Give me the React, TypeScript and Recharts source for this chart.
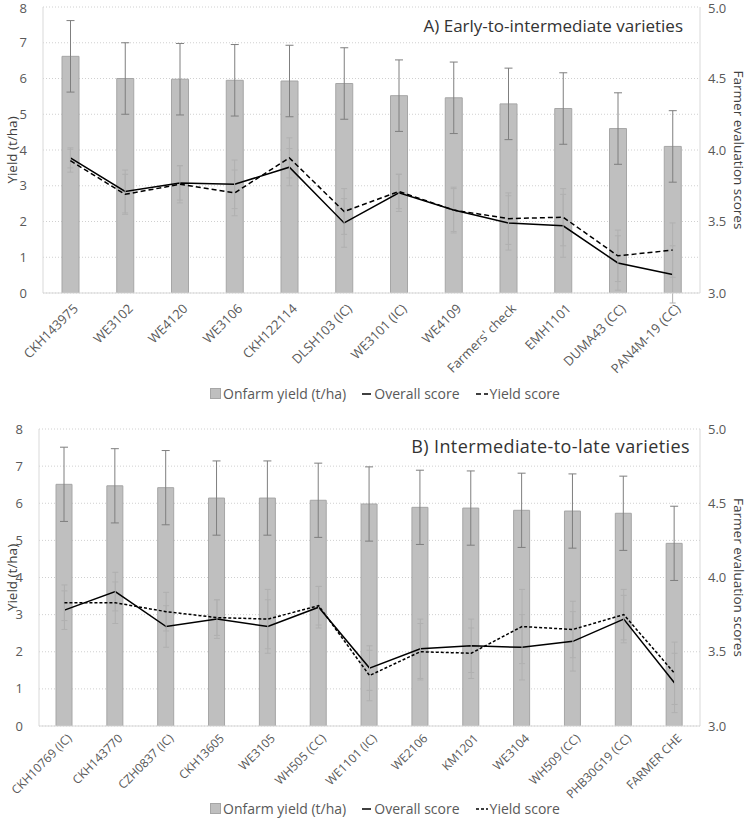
import React from 'react';
import { ComposedChart, Bar, Line, XAxis, YAxis, CartesianGrid, ErrorBar } from 'recharts';

// A) early-to-intermediate
const catA = ['CKH143975', 'WE3102', 'WE4120', 'WE3106', 'CKH122114', 'DLSH103 (IC)', 'WE3101 (IC)', 'WE4109', "Farmers' check", 'EMH1101', 'DUMA43 (CC)', 'PAN4M-19 (CC)'];
const yieldA = [6.62, 6.0, 5.98, 5.95, 5.93, 5.86, 5.52, 5.46, 5.29, 5.16, 4.6, 4.1];
const yieldErrA = [1.0, 1.0, 1.0, 1.0, 1.0, 1.0, 1.0, 1.0, 1.0, 1.0, 1.0, 1.0];
const overallA = [3.945, 3.71, 3.77, 3.76, 3.88, 3.49, 3.70, 3.58, 3.49, 3.47, 3.21, 3.13];
const overallErrA = [0.07, 0.15, 0.12, 0.17, 0.13, 0.17, 0.13, 0.16, 0.19, 0.22, 0.19, 0.2];
const yScoreA = [3.925, 3.69, 3.76, 3.70, 3.945, 3.57, 3.71, 3.58, 3.52, 3.53, 3.26, 3.30];
const yScoreErrA = [0.08, 0.14, 0.13, 0.16, 0.14, 0.16, 0.12, 0.15, 0.18, 0.2, 0.18, 0.19];

// B) intermediate-to-late
const catB = ['CKH10769 (IC)', 'CKH143770', 'CZH0837 (IC)', 'CKH13605', 'WE3105', 'WH505 (CC)', 'WE1101 (IC)', 'WE2106', 'KM1201', 'WE3104', 'WH509 (CC)', 'PHB30G19 (CC)', 'FARMER CHE'];
const yieldB = [6.51, 6.47, 6.42, 6.14, 6.14, 6.08, 5.98, 5.89, 5.87, 5.81, 5.79, 5.73, 4.92];
const yieldErrB = [1.0, 1.0, 1.0, 1.0, 1.0, 1.0, 1.0, 1.0, 1.0, 1.0, 1.0, 1.0, 1.0];
const overallB = [3.78, 3.905, 3.67, 3.72, 3.67, 3.80, 3.39, 3.52, 3.54, 3.53, 3.57, 3.72, 3.29];
const overallErrB = [0.13, 0.13, 0.14, 0.13, 0.18, 0.14, 0.15, 0.2, 0.18, 0.22, 0.2, 0.16, 0.2];
const yScoreB = [3.83, 3.83, 3.77, 3.73, 3.72, 3.81, 3.34, 3.50, 3.49, 3.67, 3.65, 3.75, 3.355];
const yScoreErrB = [0.12, 0.14, 0.13, 0.12, 0.2, 0.13, 0.17, 0.19, 0.17, 0.25, 0.19, 0.17, 0.21];

const leftTicks = [0, 1, 2, 3, 4, 5, 6, 7, 8];
const rightTicks = [3, 3.5, 4, 4.5, 5];

const FONT = '"Open Sans", sans-serif';
const TXT = '#595959';

function build(cats, y, ye, o, oe, s, se) {
  return cats.map((name, i) => ({ name, yield: y[i], yieldErr: ye[i], overall: o[i], overallErr: oe[i], yscore: s[i], yscoreErr: se[i] }));
}

function Legend({ top, dash }) {
  return (
    <div style={{ position: 'absolute', top, left: 10, width: 750, display: 'flex', justifyContent: 'center', gap: 16, fontFamily: FONT, fontSize: 14, color: TXT, alignItems: 'center' }}>
      <span style={{ display: 'flex', alignItems: 'center' }}>
        <svg width="11" height="11"><rect x="0.5" y="0.5" width="10" height="10" fill="#bfbfbf" stroke="#a6a6a6" /></svg>
        <span style={{ marginLeft: 2 }}>Onfarm yield (t/ha)</span>
      </span>
      <span style={{ display: 'flex', alignItems: 'center' }}>
        <svg width="10" height="10"><line x1="0" y1="5" x2="9" y2="5" stroke="#000" strokeWidth="1.5" /></svg>
        <span style={{ marginLeft: 2 }}>Overall score</span>
      </span>
      <span style={{ display: 'flex', alignItems: 'center' }}>
        <svg width="12" height="10"><line x1="0" y1="5" x2="12" y2="5" stroke="#000" strokeWidth="1.5" strokeDasharray={dash} /></svg>
        <span style={{ marginLeft: 2 }}>Yield score</span>
      </span>
    </div>
  );
}

function Panel({ data, top, height, marginTop, leftW, xH, barSize, dash, title, titleTop, titleRight, titleSize, titleSpacing, legendTop, xFont, xDy }) {
  return (
    <div style={{ position: 'absolute', left: 0, top, width: 750, height }}>
      <ComposedChart width={750} height={height} data={data} margin={{ top: marginTop, right: 0, left: 0, bottom: 0 }}>
        <CartesianGrid xAxisId="b" yAxisId="l" vertical={false} stroke="#d0d0d0" strokeDasharray="1 2" />
        <XAxis xAxisId="b" dataKey="name" interval={0} height={xH} angle={-45} textAnchor="end" dx={2} dy={xDy}
          tick={{ fontSize: xFont, fill: TXT, fontFamily: FONT }} tickLine={false} axisLine={{ stroke: '#d9d9d9' }} />
        <XAxis xAxisId="t" dataKey="name" orientation="top" height={0} tick={false} tickLine={false} axisLine={{ stroke: '#d9d9d9' }} />
        <YAxis yAxisId="l" domain={[0, 8]} ticks={leftTicks} width={leftW} tickLine={false} tickMargin={10} allowDataOverflow
          axisLine={{ stroke: '#d9d9d9' }} tick={{ fontSize: 13, fill: TXT, fontFamily: FONT }}
          label={{ value: 'Yield (t/ha)', angle: -90, position: 'insideLeft', offset: 12, style: { textAnchor: 'middle', fontSize: 13.5, fill: '#404040', fontFamily: FONT } }} />
        <YAxis yAxisId="r" orientation="right" domain={[3, 5]} ticks={rightTicks} width={50} tickLine={false} allowDataOverflow
          tickFormatter={(v) => v.toFixed(1)} axisLine={{ stroke: '#d9d9d9' }} tick={{ fontSize: 13, fill: TXT, fontFamily: FONT }}
          label={{ value: 'Farmer evaluation scores', angle: 90, position: 'insideRight', offset: 11, style: { textAnchor: 'middle', fontSize: 13.5, fill: '#404040', fontFamily: FONT } }} />
        <Bar xAxisId="b" yAxisId="l" dataKey="yield" barSize={barSize} fill="#bfbfbf" stroke="#a6a6a6" isAnimationActive={false}>
          <ErrorBar dataKey="yieldErr" direction="y" width={4} stroke="#7f7f7f" strokeWidth={1} />
        </Bar>
        <Line xAxisId="b" yAxisId="r" dataKey="overall" stroke="#000" strokeWidth={1.5} dot={false} isAnimationActive={false}>
          <ErrorBar dataKey="overallErr" direction="y" width={3} stroke="#b0b0b0" strokeWidth={1} />
        </Line>
        <Line xAxisId="b" yAxisId="r" dataKey="yscore" stroke="#000" strokeWidth={1.5} strokeDasharray={dash} dot={false} isAnimationActive={false}>
          <ErrorBar dataKey="yscoreErr" direction="y" width={3} stroke="#b0b0b0" strokeWidth={1} />
        </Line>
      </ComposedChart>
      <div style={{ position: 'absolute', top: titleTop, right: titleRight, fontFamily: FONT, fontSize: titleSize, letterSpacing: titleSpacing, color: '#333', whiteSpace: 'nowrap' }}>{title}</div>
      <Legend top={legendTop} dash={dash} />
    </div>
  );
}

export default function App() {
  const dataA = build(catA, yieldA, yieldErrA, overallA, overallErrA, yScoreA, yScoreErrA);
  const dataB = build(catB, yieldB, yieldErrB, overallB, overallErrB, yScoreB, yScoreErrB);
  return (
    <div style={{ position: 'absolute', left: 0, top: 0, width: 750, height: 820, background: '#fff' }}>
      <Panel data={dataA} top={0} height={410} marginTop={7} leftW={43} xH={117} barSize={17} dash="5 3"
        title="A) Early-to-intermediate varieties" titleTop={14} titleRight={67} titleSize={17} titleSpacing={0}
        legendTop={384} xFont={13} xDy={2} />
      <Panel data={dataB} top={410} height={410} marginTop={19} leftW={39} xH={94} barSize={16} dash="3 2"
        title="B) Intermediate-to-late varieties" titleTop={24} titleRight={60} titleSize={18} titleSpacing={0.4}
        legendTop={389} xFont={12} xDy={-1} />
    </div>
  );
}
